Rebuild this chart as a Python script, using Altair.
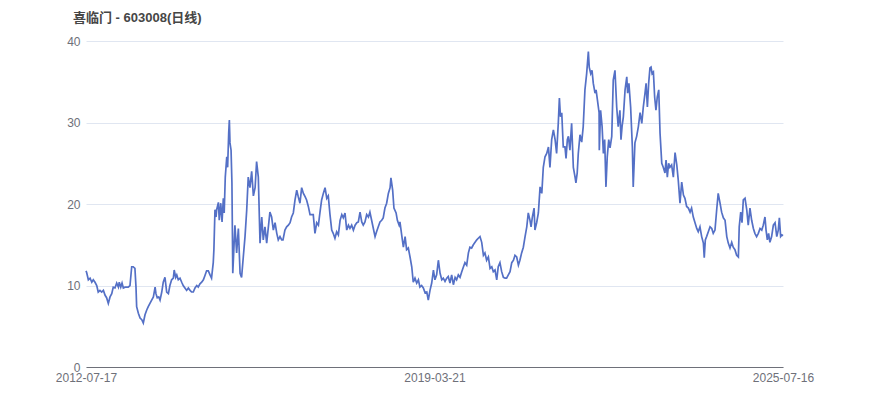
import altair as alt
import pandas as pd

# trading-day index (0 = 2012-07-17, last = 2025-07-16)
days_a = [0,3,11,19,27,34,42,50,57,65, 73,81,89,96,104,112,120,127,135,143,
          151,155,162,168,174,182,190,197,205,213, 220,228,233,236,244,252,260,267,275,283,
          290,298,306,314,322,326,332,339,345,353, 360,368,376,384,391,399,407,411,418,423,
          430,438,446,453,461,469,477,485,492,500, 508,516,523,531,539,547,554,562,570,578,
          585,593,596,601,606,609,617,621,628,634, 640,644,649,656,660,665,668,671,676,680]
close_a = [11.8,11.6,10.7,10.9,10.4,10.7,10.4,10.0,9.2,9.4, 9.2,9.4,8.8,8.5,7.8,8.6,9.0,9.8,9.7,10.3,
           9.8,10.4,9.8,10.3,9.7,9.8,9.8,9.8,10.0,12.3, 12.3,12.1,9.8,7.4,6.6,6.0,5.8,5.4,6.4,7.0,
           7.4,7.8,8.2,8.6,9.8,9.0,8.5,8.6,8.2,9.2, 10.4,11.0,9.2,9.0,10.0,10.7,10.9,11.9,11.0,11.3,
           10.7,10.9,10.4,10.0,9.7,9.4,9.7,9.4,9.2,9.2, 9.7,10.0,9.8,10.2,10.4,10.7,11.2,11.8,11.8,11.3,
           10.9,12.8,14.4,19.3,18.4,19.3,20.2,18.0,20.1,17.8, 20.7,18.9,23.3,25.8,24.5,28.7,30.3,27.5,26.6,22.6]

days_b = [684,694,702,710,718,725,733,741,749,756, 764,772,780,788,795,803,811,819,826,834,
          842,857,865,873,881,889,896,904,912,918, 927,935,943,951,958,966,974,982,989,997,
          1005,1013,1021,1028,1036,1044,1052,1059,1067,1075, 1083,1090,1098,1106,1114,1122,1129,1137,1145,1152,
          1160,1168,1176,1184,1192,1199,1207,1215,1223,1230, 1238,1246,1254,1262,1269,1277,1285,1292,1300,1308,
          1316,1323,1331,1339,1347,1354,1362,1370,1378,1385, 1393,1401,1409,1417,1421,1429,1435,1445,1451,1459]
close_b = [11.5,17.4,14.0,17.0,11.5,11.0,13.5,16.0,19.3,23.3, 22.0,24.0,21.0,22.0,25.2,23.3,15.2,18.4,15.6,17.2,
           15.2,19.0,18.4,16.8,17.7,16.4,15.6,16.0,15.6,15.6, 16.8,17.2,17.4,17.7,18.4,18.9,20.5,21.7,20.9,20.1,
           22.0,21.3,20.9,20.5,19.7,18.7,18.7,18.7,16.4,17.7, 17.4,18.9,20.5,21.3,22.0,20.7,21.0,18.7,16.8,16.4,
           15.8,16.6,16.2,18.0,18.7,18.3,18.9,16.8,17.4,17.0, 17.4,16.8,17.4,17.7,17.8,19.0,17.8,17.4,17.8,18.7,
           18.4,19.0,18.0,17.0,16.0,16.6,17.2,17.8,18.0,18.3, 19.5,20.1,21.3,22.0,23.2,21.7,19.5,18.9,18.0,17.4]

days_c = [1463,1471,1479,1487,1494,1502,1510,1518,1525,1533, 1541,1549,1556,1564,1572,1580,1588,1595,1603,1611,
          1619,1626,1634,1642,1650,1658,1665,1673,1681,1688, 1696,1704,1712,1720,1727,1735,1743,1751,1759,1766,
          1774,1782,1789,1797,1805,1813,1821,1828,1836,1844, 1852,1859,1867,1875,1883,1891,1898,1906,1914,1921,
          1929,1937,1945,1953,1960,1968,1976,1984,1992,1999, 2007,2015,2022,2030,2038,2046,2054,2061,2069,2074,
          2080,2088,2092,2100,2108,2116,2124,2131,2139,2147, 2155,2162,2170,2178,2186]
close_c = [17.8,16.2,14.7,16.0,14.4,14.6,13.5,12.3,10.4,10.9, 10.3,10.7,9.8,10.0,9.7,9.1,9.2,8.2,9.4,10.3,
           11.9,10.7,11.3,13.1,11.5,10.7,10.9,10.5,10.9,11.1, 10.3,11.3,10.1,11.0,10.7,11.3,11.0,11.7,12.3,12.8,
           12.5,14.0,14.7,14.6,15.0,15.3,15.6,15.8,16.0,15.3, 13.7,14.0,13.1,13.5,12.1,12.3,11.7,11.9,10.7,12.3,
           12.8,11.7,11.0,10.9,10.9,11.3,11.7,12.8,13.1,13.7, 13.5,12.5,13.1,14.0,14.7,16.0,17.2,18.9,18.0,17.2,
           18.4,19.5,16.8,17.7,18.9,22.1,21.3,24.5,25.8,26.2, 27.0,24.5,27.9,29.1,27.9]

days_d = [2193,2201,2206,2211,2217,2224,2232,2237,2243,2248, 2255,2263,2271,2279,2283,2289,2294,2302,2310,2317,
          2325,2333,2341,2345,2352,2358,2364,2372,2377,2383, 2391,2392,2398,2405,2411,2417,2423,2429,2436,2442,
          2450,2457,2465,2473,2480,2488,2493,2498,2504,2512, 2520,2524,2530,2538,2546,2550,2558,2566,2574,2582,
          2590,2597,2605,2610,2616,2622,2628,2633,2638,2644, 2650,2656,2662,2669,2675,2683,2690,2698,2703,2709,
          2715,2721,2729,2737,2745,2753,2760,2768]
close_d = [26.2,30.0,33.0,30.7,31.2,27.0,27.0,25.6,27.9,28.3, 26.6,29.9,24.5,23.3,22.6,23.8,26.2,28.5,27.6,29.5,
           34.0,36.0,38.7,36.8,36.0,36.4,34.8,33.6,34.0,32.8, 31.2,26.6,31.5,29.5,26.2,27.9,22.1,25.8,27.9,26.9,
           28.3,35.2,36.4,31.9,29.5,31.5,27.9,29.5,30.7,34.0, 35.6,33.6,34.8,31.9,27.0,22.1,27.5,28.3,29.5,31.2,
           29.9,31.9,33.6,34.8,31.9,34.8,36.7,36.8,36.0,36.2, 33.1,31.5,33.1,34.0,28.7,25.0,24.5,23.8,25.4,23.3,
           25.0,24.5,24.8,23.3,26.3,24.8,22.9,20.1]

days_e = [2776,2784,2791,2799,2807,2815,2822,2830,2838,2846, 2853,2861,2869,2877,2881,2886,2892,2900,2908,2916,
          2923,2931,2939,2946,2954,2962,2970,2978,2986,2993, 3001,3009,3016,3024,3032,3040,3044,3051,3057,3063,
          3071,3079,3086,3094,3102,3110,3117,3125,3133,3141, 3149,3156,3164,3169,3175,3181,3187,3195,3203,3211,
          3219,3226,3231,3237,3243,3248]
close_e = [22.7,21.1,20.7,19.7,19.5,19.0,19.5,18.4,17.7,17.0, 16.6,17.2,16.0,15.2,13.4,15.6,16.0,16.6,17.2,17.0,
           16.4,16.8,19.3,21.3,20.2,19.0,18.3,18.0,16.0,15.2, 14.6,15.3,14.7,14.4,13.7,13.5,17.2,19.0,17.7,20.5,
           20.7,19.3,17.4,19.5,18.0,17.0,16.4,16.0,16.4,17.0, 16.8,17.4,18.4,16.8,15.6,16.4,15.3,16.0,17.4,17.7,
           16.0,16.8,18.3,16.0,16.2,16.1]

tick_days = [0, 1624, 3248]
tick_labels = ["2012-07-17", "2019-03-21", "2025-07-16"]
title_text = "喜临门 - 603008(日线)"

days = days_a + days_b + days_c + days_d + days_e
close = close_a + close_b + close_c + close_d + close_e
assert len(days) == len(close)

df = pd.DataFrame({"day": days, "close": close})

label_expr = " : ".join(
    f"datum.value == {d} ? '{l}'" for d, l in zip(tick_days, tick_labels)
) + " : ''"

font = "Liberation Sans, Noto Sans CJK SC, sans-serif"

chart = alt.Chart(df).mark_line(color="#5470c6", strokeWidth=1.7).encode(
    x=alt.X("day:Q",
            scale=alt.Scale(domain=[tick_days[0], tick_days[-1]], nice=False, zero=False),
            axis=alt.Axis(values=tick_days, labelExpr=label_expr, title=None, grid=False,
                          ticks=False, labelFlush=False, labelOverlap=False,
                          domainColor="#6e7079", labelColor="#6e7079", labelFontSize=12,
                          labelFont=font, labelPadding=5)),
    y=alt.Y("close:Q",
            scale=alt.Scale(domain=[0, 40], nice=False),
            axis=alt.Axis(values=[0, 10, 20, 30, 40], title=None, domain=False, ticks=False,
                          gridColor="#e0e6f1", labelColor="#6e7079", labelFontSize=12,
                          labelFont=font, labelPadding=6)),
).properties(
    width=697,
    height=326,
    title=alt.TitleParams(title_text, anchor="start", frame="group", fontSize=13,
                          fontWeight="bold", color="#464646", font=font, dx=-13, offset=10),
    autosize=alt.AutoSizeParams(type="none"),
    padding={"left": 78, "top": 33, "right": 40, "bottom": 30},
).configure(background="white").configure_view(stroke=None)

chart.save("out.html", embed_options={"renderer": "svg", "actions": False})
